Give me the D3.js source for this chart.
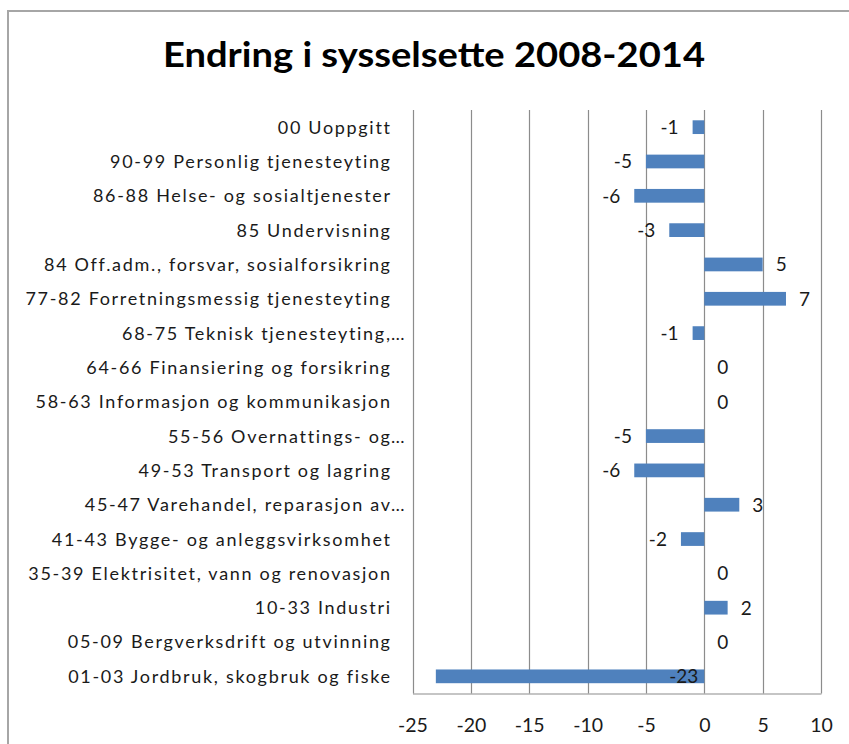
<!DOCTYPE html>
<html>
<head>
<meta charset="utf-8">
<script src="https://cdn.jsdelivr.net/npm/d3@7"></script>
<style>
  html, body { margin: 0; padding: 0; background: #fff; }
  svg { display: block; }
  text { font-family: Lato, "Open Sans", sans-serif; }
</style>
</head>
<body>
<svg id="chart" width="849" height="744"></svg>
<script>
const title = "Endring i sysselsette 2008-2014";
const categories = [
  "00 Uoppgitt",
  "90-99 Personlig tjenesteyting",
  "86-88 Helse- og sosialtjenester",
  "85 Undervisning",
  "84 Off.adm., forsvar, sosialforsikring",
  "77-82 Forretningsmessig tjenesteyting",
  "68-75 Teknisk tjenesteyting,…",
  "64-66 Finansiering og forsikring",
  "58-63 Informasjon og kommunikasjon",
  "55-56 Overnattings- og…",
  "49-53 Transport og lagring",
  "45-47 Varehandel, reparasjon av…",
  "41-43 Bygge- og anleggsvirksomhet",
  "35-39 Elektrisitet, vann og renovasjon",
  "10-33 Industri",
  "05-09 Bergverksdrift og utvinning",
  "01-03 Jordbruk, skogbruk og fiske"
];
const values = [-1, -5, -6, -3, 5, 7, -1, 0, 0, -5, -6, 3, -2, 0, 2, 0, -23];
const xTicks = [-25, -20, -15, -10, -5, 0, 5, 10];

const svg = d3.select("#chart");
const barColor = "#4F81BD";
const gridColor = "#8c8c8c";
const textColor = "#1a1a1a";

// outer chart border (partially visible)
svg.append("path")
  .attr("d", "M8,744 L8,11 L849,11")
  .attr("fill", "none")
  .attr("stroke", "#a6a6a6")
  .attr("stroke-width", 2);

// title, condensed to the reference width
svg.append("text")
  .attr("x", 163).attr("y", 67)
  .attr("text-anchor", "start")
  .attr("font-weight", "bold")
  .attr("font-size", 34)
  .attr("textLength", 542)
  .attr("lengthAdjust", "spacingAndGlyphs")
  .attr("fill", "#000")
  .text(title);

const x = d3.scaleLinear().domain([-25, 10]).range([412.5, 821]);
const y = d3.scaleBand().domain(categories).range([110, 693.5])
  .paddingInner(0.6).paddingOuter(0.3);
const plotTop = 110, plotBottom = 693.5;

// gridlines
svg.append("g").selectAll("line").data(xTicks).join("line")
  .attr("x1", d => Math.round(x(d)) + 0.5).attr("x2", d => Math.round(x(d)) + 0.5)
  .attr("y1", plotTop).attr("y2", plotBottom)
  .attr("stroke", gridColor).attr("stroke-width", 1.2);

// bottom axis line + labels
const xAxis = d3.axisBottom(x).tickValues(xTicks).tickSize(0).tickPadding(22)
  .tickFormat(d => d3.format("d")(d).replace("−", "-"));
const gx = svg.append("g").attr("transform", `translate(0,${plotBottom})`).call(xAxis);
gx.select(".domain").attr("stroke", gridColor).attr("stroke-width", 1.2);
gx.selectAll("text").attr("font-size", 19.5).attr("fill", textColor)
  .attr("font-family", "Lato, sans-serif").attr("dy", "0.36em").attr("y", 31);

// bars
svg.append("g").selectAll("rect").data(values).join("rect")
  .attr("x", d => x(Math.min(0, d)))
  .attr("width", d => Math.abs(x(d) - x(0)))
  .attr("y", (d, i) => y(categories[i]))
  .attr("height", y.bandwidth())
  .attr("fill", barColor);

// category labels
const labelX = 390;
const catSize = 18;
const lg = svg.append("g");
const catTexts = lg.selectAll("text").data(categories).join("text")
  .attr("y", d => y(d) + y.bandwidth() / 2)
  .attr("dy", "0.36em")
  .attr("font-size", catSize)
  .attr("fill", textColor)
  .text(d => d.endsWith("…") ? d.slice(0, -1) : d);
// letter-spacing calibration against the reference width of the longest label
const ref = catTexts.filter(d => d.startsWith("84 ")).node();
const natural = ref.getComputedTextLength();
const refLen = ref.textContent.length;
const ls = (347 - natural) / refLen;
catTexts.attr("letter-spacing", ls).attr("text-anchor", "end").attr("x", labelX + ls);
lg.selectAll("text.ell").data(categories.filter(d => d.endsWith("…"))).join("text")
  .attr("class", "ell")
  .attr("x", labelX + 1)
  .attr("y", d => y(d) + y.bandwidth() / 2)
  .attr("dy", "0.36em")
  .attr("font-size", catSize)
  .attr("fill", textColor)
  .text("…");

// data labels
const dl = svg.append("g");
values.forEach((v, i) => {
  const cy = y(categories[i]) + y.bandwidth() / 2;
  const txt = dl.append("text")
    .attr("y", cy).attr("dy", "0.36em")
    .attr("font-size", 19).attr("fill", textColor)
    .text(d3.format("d")(v).replace("−", "-"));
  const w = txt.node().getComputedTextLength();
  if (v >= 0) {
    txt.attr("x", x(v) + 13).attr("text-anchor", "start");
  } else if (x(v) - 14 - w < x.range()[0]) {
    txt.attr("x", x(0) - 6).attr("text-anchor", "end");
  } else {
    txt.attr("x", x(v) - 14).attr("text-anchor", "end");
  }
});
</script>
</body>
</html>
